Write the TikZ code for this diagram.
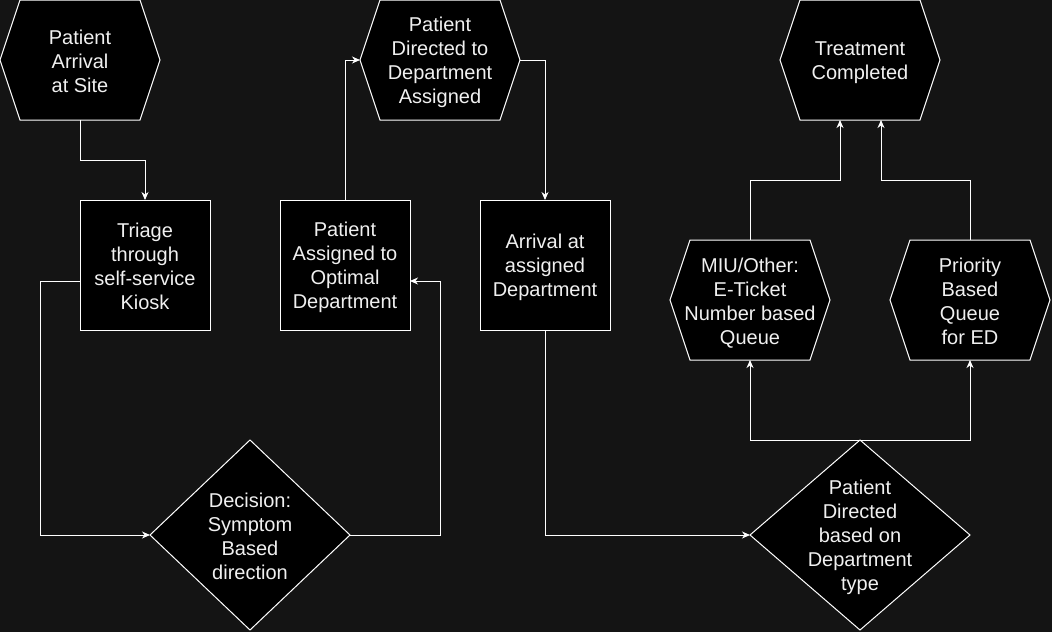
\documentclass[tikz,border=0pt]{standalone}
\usepackage{fontspec}
\setmainfont{Liberation Sans}
\usetikzlibrary{arrows.meta,calc}
\pgfdeclarelayer{back}
\pgfsetlayers{back,main}
\definecolor{bgcol}{RGB}{20,20,20}
\definecolor{txtcol}{RGB}{240,240,240}
\newcommand\topst{\rule{0pt}{20pt}}
\newcommand\botst{\rule[-4pt]{0pt}{4pt}}
\tikzset{
  lbl/.style={inner sep=0pt, outer sep=0pt, text=txtcol, align=center,
    font=\fontsize{20}{24}\selectfont},
  hexnode/.style={lbl, minimum width=160pt, minimum height=120pt},
  boxnode/.style={lbl, draw=white, line width=1pt, fill=black, minimum width=130pt, minimum height=130pt},
  diamnode/.style={lbl, minimum height=190pt},
  shapeline/.style={draw=white, line width=1pt, fill=black, line join=miter},
  conn/.style={draw=white, line width=1pt, -{Stealth[length=8pt,width=7pt,inset=2.5pt]}},
}
\newcommand\hexof[1]{\path[shapeline] ($(#1.north west)+(20,0)$) -- ($(#1.north east)+(-20,0)$) -- (#1.east) -- ($(#1.south east)+(-20,0)$) -- ($(#1.south west)+(20,0)$) -- (#1.west) -- cycle;}
\newcommand\diamof[1]{\path[shapeline] (#1.north) -- (#1.east) -- (#1.south) -- (#1.west) -- cycle;}
\begin{document}
\begin{tikzpicture}[x=1pt,y=-1pt]
\useasboundingbox (0,0) rectangle (1052,632);
% nodes
\node[hexnode] (arr) at (80,60) {\topst Patient\\Arrival\\at Site\botst};
\node[boxnode] (tri) at (145,265) {\topst Triage\\through\\self-service\\Kiosk\botst};
\node[diamnode, minimum width=200pt] (dec) at (250,535) {\topst Decision:\\Symptom\\Based\\direction\botst};
\node[boxnode] (opt) at (345,265) {\topst Patient\\Assigned to\\Optimal\\Department\botst};
\node[hexnode] (dir) at (440,60) {\topst Patient\\Directed to\\Department\\Assigned\botst};
\node[boxnode] (arv) at (545,265) {\topst Arrival at\\assigned\\Department\botst};
\node[diamnode, minimum width=220pt] (dtp) at (860,535) {\topst Patient\\Directed\\based on\\Department\\type\botst};
\node[hexnode] (miu) at (750,300) {\topst MIU/Other:\\E-Ticket\\Number based\\Queue\botst};
\node[hexnode] (pri) at (970,300) {\topst Priority\\Based\\Queue\\for ED\botst};
\node[hexnode] (trt) at (860,60) {\topst Treatment\\Completed\botst};
% shapes behind text
\begin{pgfonlayer}{back}
  \fill[bgcol] (0,0) rectangle (1052,632);
  \hexof{arr}
  \hexof{dir}
  \hexof{miu}
  \hexof{pri}
  \hexof{trt}
  \diamof{dec}
  \diamof{dtp}
\end{pgfonlayer}
% connectors
\draw[conn] (arr.south) -- ++(0,40) -| (tri.north);
\draw[conn] ($(tri.west)+(0,16)$) -- ++(-40,0) |- (dec.west);
\draw[conn] (dec.east) -- ++(90,0) |- ($(opt.east)+(0,16)$);
\draw[conn] (opt.north) |- (dir.west);
\draw[conn] (dir.east) -| (arv.north);
\draw[conn] (arv.south) |- (dtp.west);
\draw[conn] (dtp.north) -| (miu.south);
\draw[conn] (dtp.north) -| (pri.south);
\draw[conn] (miu.north) |- ($(trt.south)+(-20,60)$) -- ($(trt.south)+(-20,0)$);
\draw[conn] (pri.north) |- ($(trt.south)+(21,60)$) -- ($(trt.south)+(21,0)$);
\end{tikzpicture}
\end{document}
